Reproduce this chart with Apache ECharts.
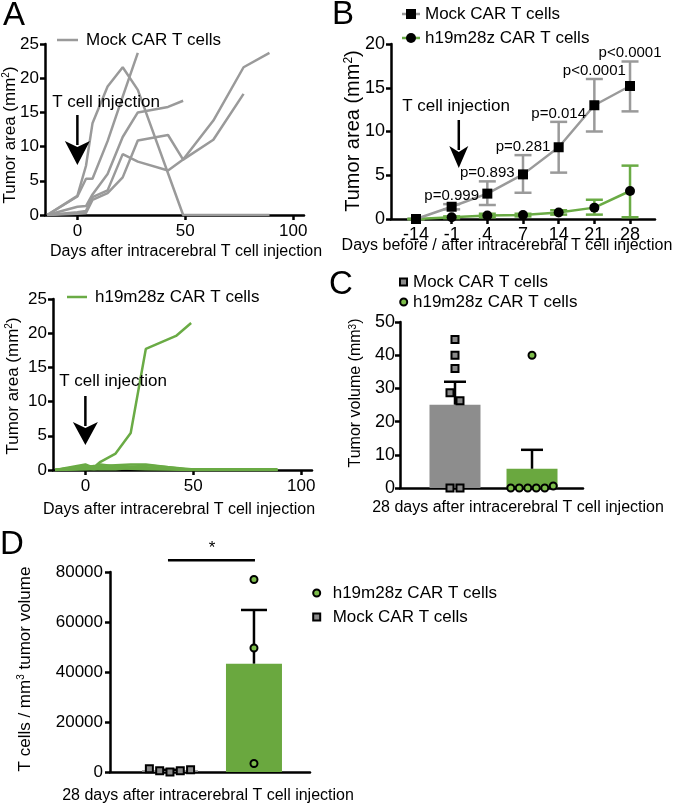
<!DOCTYPE html>
<html><head><meta charset="utf-8">
<script src="https://cdn.jsdelivr.net/npm/echarts@6/dist/echarts.min.js"></script>
<style>html,body{margin:0;padding:0;background:#fff}#c{width:677px;height:806px}</style>
</head><body><div id="c"></div>
<script>
// ---------------- DATA ----------------
// Panel A (top): individual tumour area curves, Mock CAR T cells  [day, mm2]
const aMockCurve1 = [[-14,0],[0,2.8],[4,7.2],[7,13.4],[14,18.8],[21,21.6],[28,18.3],[49,0],[89,0]];
const aMockCurve2 = [[-14,0],[0,2.7],[4,5.3],[7,5.3],[14,10.8],[21,17.3],[28,23.7]];
const aMockCurve3 = [[-14,0],[0,1.2],[4,1.3],[7,3.0],[14,6.0],[21,11.4],[28,15.0],[42,15.8],[49,16.7]];
const aMockCurve4 = [[-14,0],[0,0.4],[4,0.6],[7,2.6],[14,3.6],[21,8.9],[28,7.8],[42,6.5],[49,8.1],[63,13.8],[77,21.6],[89,23.7]];
const aMockCurve5 = [[-14,0],[0,0.2],[4,0.3],[7,2.2],[14,3.2],[21,5.5],[28,10.9],[42,11.7],[49,8.1],[63,11.0],[77,17.7]];
// Panel A (bottom): h19m28z CAR T cells
const aCarCurve1 = [[-14,0],[0,0.5],[4,0.4],[7,1.2],[14,2.4],[21,5.4],[28,17.7],[42,19.6],[49,21.5]];
const aCarCurve2 = [[-14,0],[0,0.8],[4,0.3],[7,0.6],[14,0.7],[21,0.8],[28,0.8],[49,0],[89,0]];
const aCarCurve3 = [[-14,0],[0,0.4],[4,0.6],[7,0.3],[14,0.4],[21,0.5],[28,0.4],[49,0],[89,0]];
const aCarCurve4 = [[-14,0],[0,0.2],[4,0.1],[7,0.2],[14,0.3],[21,0.2],[28,0.1],[49,0.1],[89,0.1]];
const aCarCurve5 = [[-14,0],[0,0.1],[4,0.2],[7,0.1],[14,0.1],[21,0.3],[28,0.2],[49,0],[89,0]];
const aCarCurve6 = [[-14,0],[0,0.6],[4,0.4],[7,0.8],[14,0.5],[21,0.4],[28,0.7],[49,0.1]];
const aTicks = [0, 50, 100];

// Panel B: mean tumour area with error bars
const bDays = ['-14', '-1', '4', '7', '14', '21', '28'];
const bMockMean = [0, 1.4, 2.9, 5.1, 8.2, 13.0, 15.2];
const bMockLow  = [0, 1.1, 1.6, 3.0, 5.3, 10.0, 12.3];
const bMockHigh = [0, 1.7, 4.3, 7.3, 11.1, 16.0, 18.0];
const bCarMean  = [0, 0.2, 0.4, 0.45, 0.75, 1.3, 3.2];
const bCarLow   = [0, 0.1, 0.2, 0.3, 0.5, 0.5, 0.2];
const bCarHigh  = [0, 0.3, 0.6, 0.6, 1.0, 2.2, 6.1];
const bPValues  = ['', 'p=0.999', 'p=0.893', 'p=0.281', 'p=0.014', 'p<0.0001', 'p<0.0001'];

// Panel C: tumour volume at day 28 (mm3)
const cMockVolumes = [44.7, 40.0, 36.0, 28.7, 26.3, 0, 0];
const cCarVolumes  = [40.0, 0, 0, 0, 0, 0, 0.6];

// Panel D: T cells / mm3 tumour volume
const dMockDensity = [1330, 530, 0, 530, 900];
const dCarDensity  = [77000, 49600, 3400];

// ---------------- STYLE ----------------
const FONT = '"Liberation Sans", Arial, Helvetica, sans-serif';
const INK = '#000';
const GREY_LINE = '#9a9a9a';
const GREEN_LINE = '#6aab45';
const GREY_BAR = '#8d8d8d';
const GREEN_BAR = '#6aa83f';
const GREY_PT = '#8a8a8a';
const GREEN_PT = '#7dbd4b';

function mean(a){ return a.reduce((s,v)=>s+v,0)/a.length; }
function sem(a){ const m=mean(a); const v=a.reduce((s,x)=>s+(x-m)*(x-m),0)/(a.length-1); return Math.sqrt(v/a.length); }
// simple symmetric swarm offsets (pixels) for overlapping points
function swarm(values, pxPerUnit, thresh, step){
  const idx = values.map((v,i)=>i).sort((a,b)=>values[a]-values[b]);
  const clusters=[]; let cur=[idx[0]];
  for(let k=1;k<idx.length;k++){
    if((values[idx[k]]-values[idx[k-1]])*pxPerUnit < thresh) cur.push(idx[k]);
    else { clusters.push(cur); cur=[idx[k]]; }
  }
  clusters.push(cur);
  const off = values.map(()=>0);
  clusters.forEach(c=>{ c.sort((a,b)=>a-b); c.forEach((i,j)=>{ off[i]=(j-(c.length-1)/2)*step; }); });
  return off;
}

const axisLineStyle = {show:true, onZero:false, lineStyle:{color:'#000', width:2.5}};
const tickOut = {show:true, inside:false, length:5, lineStyle:{color:'#000', width:2.5}};
function lab(size, margin){ return {color:INK, fontSize:size, fontFamily:FONT, margin:margin, formatter:v=>String(v)}; }

const grids = [
  {left:45, top:44, width:259, height:171},   // A top
  {left:53, top:299, width:259, height:171},  // A bottom
  {left:391, top:44, width:264, height:175},  // B
  {left:400, top:322, width:183, height:166}, // C
  {left:110, top:572, width:200, height:200}  // D
];

const xAxes = [
  {gridIndex:0, type:'value', min:-15, max:105, axisLine:axisLineStyle, splitLine:{show:false},
   axisTick:Object.assign({customValues:aTicks}, tickOut), axisLabel:Object.assign(lab(17,8), {customValues:aTicks})},
  {gridIndex:1, type:'value', min:-15, max:105, axisLine:axisLineStyle, splitLine:{show:false},
   axisTick:Object.assign({customValues:aTicks}, tickOut), axisLabel:Object.assign(lab(17,8), {customValues:aTicks})},
  {gridIndex:2, type:'value', min:-0.7, max:6.7, axisLine:axisLineStyle, splitLine:{show:false},
   axisTick:Object.assign({customValues:bDays.map((d,i)=>i)}, tickOut),
   axisLabel:Object.assign(lab(18,7), {customValues:bDays.map((d,i)=>i), formatter:v=>bDays[Math.round(v)]})},
  {gridIndex:3, type:'value', min:-0.714, max:1.662, axisLine:axisLineStyle, splitLine:{show:false}, axisTick:{show:false}, axisLabel:{show:false}},
  {gridIndex:4, type:'value', min:-0.714, max:1.667, axisLine:axisLineStyle, splitLine:{show:false}, axisTick:{show:false}, axisLabel:{show:false}}
];
const yAxes = [
  {gridIndex:0, type:'value', min:0, max:25, interval:5, axisLine:axisLineStyle, axisTick:tickOut, splitLine:{show:false}, axisLabel:lab(17,6)},
  {gridIndex:1, type:'value', min:0, max:25, interval:5, axisLine:axisLineStyle, axisTick:tickOut, splitLine:{show:false}, axisLabel:lab(17,6)},
  {gridIndex:2, type:'value', min:0, max:20, interval:5, axisLine:axisLineStyle, axisTick:tickOut, splitLine:{show:false}, axisLabel:lab(18,6)},
  {gridIndex:3, type:'value', min:0, max:50, interval:10, axisLine:axisLineStyle, axisTick:tickOut, splitLine:{show:false}, axisLabel:lab(18,5)},
  {gridIndex:4, type:'value', min:0, max:80000, interval:20000, axisLine:axisLineStyle, axisTick:tickOut, splitLine:{show:false}, axisLabel:lab(17,7)}
];

const series = [];
[aMockCurve1,aMockCurve2,aMockCurve3,aMockCurve4,aMockCurve5].forEach(c=>series.push({
  type:'line', xAxisIndex:0, yAxisIndex:0, data:c, symbol:'none', silent:true,
  lineStyle:{color:GREY_LINE, width:2.5}, z:2}));
[aCarCurve1,aCarCurve2,aCarCurve3,aCarCurve4,aCarCurve5,aCarCurve6].forEach(c=>series.push({
  type:'line', xAxisIndex:1, yAxisIndex:1, data:c, symbol:'none', silent:true,
  lineStyle:{color:GREEN_LINE, width:2.5}, z:2}));

// Panel B error bars (both caps)
function bErr(color){
  return function(params, api){
    const x=api.value(0), lo=api.value(1), hi=api.value(2);
    const pL=api.coord([x,lo]), pH=api.coord([x,hi]);
    const hw=8.5, st={stroke:color, lineWidth:2.5};
    return {type:'group', children:[
      {type:'line', shape:{x1:pL[0],y1:pL[1],x2:pH[0],y2:pH[1]}, style:st},
      {type:'line', shape:{x1:pH[0]-hw,y1:pH[1],x2:pH[0]+hw,y2:pH[1]}, style:st},
      {type:'line', shape:{x1:pL[0]-hw,y1:pL[1],x2:pL[0]+hw,y2:pL[1]}, style:st}
    ]};
  };
}
series.push({type:'custom', xAxisIndex:2, yAxisIndex:2, renderItem:bErr(GREY_LINE), z:3, silent:true,
  data:bMockMean.map((m,i)=>[i,bMockLow[i],bMockHigh[i]])});
series.push({type:'custom', xAxisIndex:2, yAxisIndex:2, renderItem:bErr(GREEN_LINE), z:3, silent:true,
  data:bCarMean.map((m,i)=>[i,bCarLow[i],bCarHigh[i]])});
series.push({type:'line', xAxisIndex:2, yAxisIndex:2, data:bCarMean.map((v,i)=>[i,v]), symbol:'circle', symbolSize:10,
  itemStyle:{color:'#000'}, lineStyle:{color:GREEN_LINE, width:2.5}, z:4, silent:true});
series.push({type:'line', xAxisIndex:2, yAxisIndex:2, data:bMockMean.map((v,i)=>[i,v]), symbol:'rect', symbolSize:10,
  itemStyle:{color:'#000'}, lineStyle:{color:GREY_LINE, width:2.5}, z:5, silent:true});
series.push({type:'scatter', xAxisIndex:2, yAxisIndex:2, symbolSize:0, silent:true, z:6,
  itemStyle:{opacity:1},
  data:bMockHigh.map((h,i)=>({value:[i,h], label:{show: bPValues[i] !== ''}})),
  label:{position:'top', distance:1, formatter:p=>bPValues[p.dataIndex], color:'#000', opacity:1, fontSize:15, fontFamily:FONT}});

// bars + SEM (up only)
function barItem(color, w){
  return function(params, api){
    const x=api.value(0), y=api.value(1);
    const p0=api.coord([x,0]), p1=api.coord([x,y]);
    return {type:'rect', shape:{x:p0[0]-w/2, y:p1[1], width:w, height:p0[1]-p1[1]}, style:{fill:color}};
  };
}
function upErr(hw){
  return function(params, api){
    const x=api.value(0), m=api.value(1), s=api.value(2);
    const a=api.coord([x,m]), b=api.coord([x,m+s]);
    const st={stroke:'#000', lineWidth:2.5};
    return {type:'group', children:[
      {type:'line', shape:{x1:a[0],y1:a[1],x2:b[0],y2:b[1]}, style:st},
      {type:'line', shape:{x1:b[0]-hw,y1:b[1],x2:b[0]+hw,y2:b[1]}, style:st}
    ]};
  };
}
function pts(values, group, gi, pxY, step, symbol, size, fill){
  const off = swarm(values, pxY, 9, step);
  return {type:'scatter', xAxisIndex:gi, yAxisIndex:gi, symbol:symbol, symbolSize:size, silent:true, z:6,
    itemStyle:{color:fill, borderColor:'#000', borderWidth:2, opacity:1},
    data:values.map((v,i)=>({value:[group,v], symbolOffset:[off[i],0]}))};
}
// Panel C
series.push({type:'custom', xAxisIndex:3, yAxisIndex:3, renderItem:barItem(GREY_BAR,51), z:2, silent:true, data:[[0, mean(cMockVolumes)]]});
series.push({type:'custom', xAxisIndex:3, yAxisIndex:3, renderItem:barItem(GREEN_BAR,51), z:2, silent:true, data:[[1, mean(cCarVolumes)]]});
series.push({type:'custom', xAxisIndex:3, yAxisIndex:3, renderItem:upErr(11), z:3, silent:true,
  data:[[0, mean(cMockVolumes), sem(cMockVolumes)],[1, mean(cCarVolumes), sem(cCarVolumes)]]});
series.push(pts(cMockVolumes, 0, 3, 166/50, 10, 'rect', 7, GREY_PT));
series.push(pts(cCarVolumes, 1, 3, 166/50, 8.5, 'circle', 7, GREEN_PT));
// Panel D
series.push({type:'custom', xAxisIndex:4, yAxisIndex:4, renderItem:barItem(GREY_BAR,56), z:2, silent:true, data:[[0, mean(dMockDensity)]]});
series.push({type:'custom', xAxisIndex:4, yAxisIndex:4, renderItem:barItem(GREEN_BAR,56), z:2, silent:true, data:[[1, mean(dCarDensity)]]});
series.push({type:'custom', xAxisIndex:4, yAxisIndex:4, renderItem:upErr(13), z:3, silent:true,
  data:[[0, mean(dMockDensity), sem(dMockDensity)],[1, mean(dCarDensity), sem(dCarDensity)]]});
series.push(pts(dMockDensity, 0, 4, 200/80000, 10.3, 'rect', 7, GREY_PT));
series.push(pts(dCarDensity, 1, 4, 200/80000, 10.3, 'circle', 7, GREEN_PT));
// significance bracket in D
series.push({type:'custom', xAxisIndex:4, yAxisIndex:4, clip:false, silent:true, z:6,
  data:[[0, 1, Math.max.apply(null, dCarDensity)*1.1]],
  renderItem:function(params, api){
    const a=api.coord([api.value(0), api.value(2)]), b=api.coord([api.value(1), api.value(2)]);
    return {type:'group', children:[
      {type:'line', shape:{x1:a[0]-2,y1:a[1],x2:b[0]+1,y2:b[1]}, style:{stroke:'#000', lineWidth:2.5}},
      {type:'text', x:(a[0]+b[0])/2, y:a[1]-12, style:{text:'*', fontSize:17, fontFamily:FONT, fill:INK, align:'center', verticalAlign:'middle'}}
    ]};
  }});

const chart = echarts.init(document.getElementById('c'), null, {renderer:'canvas'});
chart.setOption({animation:false, backgroundColor:'#fff', grid:grids, xAxis:xAxes, yAxis:yAxes, series:series});

// ---------------- annotations ----------------
function txt(x,y,text,size,opt){
  return Object.assign({type:'text', x:x, y:y, silent:true, z:10,
    style:Object.assign({text:text, fontSize:size, fontFamily:FONT, fill:INK, align:'center', verticalAlign:'middle'}, (opt&&opt.style)||{})},
    (opt&&opt.el)||{});
}
function ytitle(x,y,text,size){
  return {type:'text', x:x, y:y, rotation:Math.PI/2, silent:true, z:10,
    style:{text:text, fontSize:size, fontFamily:FONT, fill:INK, align:'center', verticalAlign:'middle',
      rich:{sup:{fontSize:Math.round(size*0.6), fontFamily:FONT, fill:INK, verticalAlign:'top'}}}};
}
function arrow(x, yTop, yBase, yTip, hw){
  return [
    {type:'line', silent:true, z:10, shape:{x1:x,y1:yTop,x2:x,y2:yBase+2}, style:{stroke:'#000', lineWidth:2.5}},
    {type:'polygon', silent:true, z:10, shape:{points:[[x-hw,yBase-2],[x,yBase+4],[x+hw,yBase-2],[x,yTip]]}, style:{fill:'#000'}}
  ];
}
const day0A = chart.convertToPixel({gridIndex:0}, [0,0]);
const day0A2 = chart.convertToPixel({gridIndex:1}, [0,0]);
// day 0 sits 1/5 of the way from day -1 to day 4 on panel B's ordinal axis
const day0B = chart.convertToPixel({gridIndex:2}, [1 + 1/5, 0]);

const g = [];
// panel letters
g.push(txt(14,16,'A',33)); g.push(txt(343,15,'B',33)); g.push(txt(341,285,'C',33)); g.push(txt(12,545,'D',33));
// axis titles
g.push(ytitle(10,135,'Tumor area (mm{sup|2})',17));
g.push(txt(186,252,'Days after intracerebral T cell injection',16));
g.push(ytitle(13,386,'Tumor area (mm{sup|2})',17));
g.push(txt(179,510,'Days after intracerebral T cell injection',16));
g.push(ytitle(353,131,'Tumor area (mm{sup|2})',20));
g.push(txt(507,246,'Days before / after intracerebral T cell injection',16));
g.push(ytitle(356,393,'Tumor volume (mm{sup|3})',16));
g.push(txt(518,508,'28 days after intracerebral T cell injection',16));
g.push(ytitle(25,669,'T cells / mm{sup|3} tumor volume',17));
g.push(txt(208,796,'28 days after intracerebral T cell injection',16));
// injection annotations
g.push(txt(106,102,'T cell injection',17)); g.push.apply(g, arrow(day0A[0],115,143,165,12.5));
g.push(txt(113,381,'T cell injection',17)); g.push.apply(g, arrow(day0A2[0],396,424,445,12.5));
g.push(txt(456,106,'T cell injection',17)); g.push.apply(g, arrow(day0B[0],120,148,168,9.5));
// legends
function legLine(x1,x2,y,color){ return {type:'line', silent:true, z:10, shape:{x1:x1,y1:y,x2:x2,y2:y}, style:{stroke:color, lineWidth:2.5}}; }
function legText(x,y,t){ return txt(x,y,t,17,{style:{align:'left'}}); }
g.push(legLine(57,78,40,GREY_LINE)); g.push(legText(86,40,'Mock CAR T cells'));
g.push(legLine(67,87,297,GREEN_LINE)); g.push(legText(95,297,'h19m28z CAR T cells'));
g.push(legLine(402,420,14,GREY_LINE)); g.push({type:'rect', silent:true, z:11, shape:{x:406,y:9,width:10,height:10}, style:{fill:'#000'}});
g.push(legText(425,14,'Mock CAR T cells'));
g.push(legLine(402,420,38,GREEN_LINE)); g.push({type:'circle', silent:true, z:11, shape:{cx:411,cy:38,r:5}, style:{fill:'#000'}});
g.push(legText(425,38,'h19m28z CAR T cells'));
g.push({type:'rect', silent:true, z:11, shape:{x:400,y:278.5,width:7,height:7}, style:{fill:GREY_PT, stroke:'#000', lineWidth:2}});
g.push(legText(413,282,'Mock CAR T cells'));
g.push({type:'circle', silent:true, z:11, shape:{cx:403.7,cy:302,r:3.5}, style:{fill:GREEN_PT, stroke:'#000', lineWidth:2}});
g.push(legText(413,302,'h19m28z CAR T cells'));
g.push({type:'circle', silent:true, z:11, shape:{cx:316.7,cy:593,r:3.5}, style:{fill:GREEN_PT, stroke:'#000', lineWidth:2}});
g.push(legText(332.7,593,'h19m28z CAR T cells'));
g.push({type:'rect', silent:true, z:11, shape:{x:313.2,y:613.5,width:7,height:7}, style:{fill:GREY_PT, stroke:'#000', lineWidth:2}});
g.push(legText(332.7,617,'Mock CAR T cells'));

chart.setOption({graphic:g});
</script></body></html>
